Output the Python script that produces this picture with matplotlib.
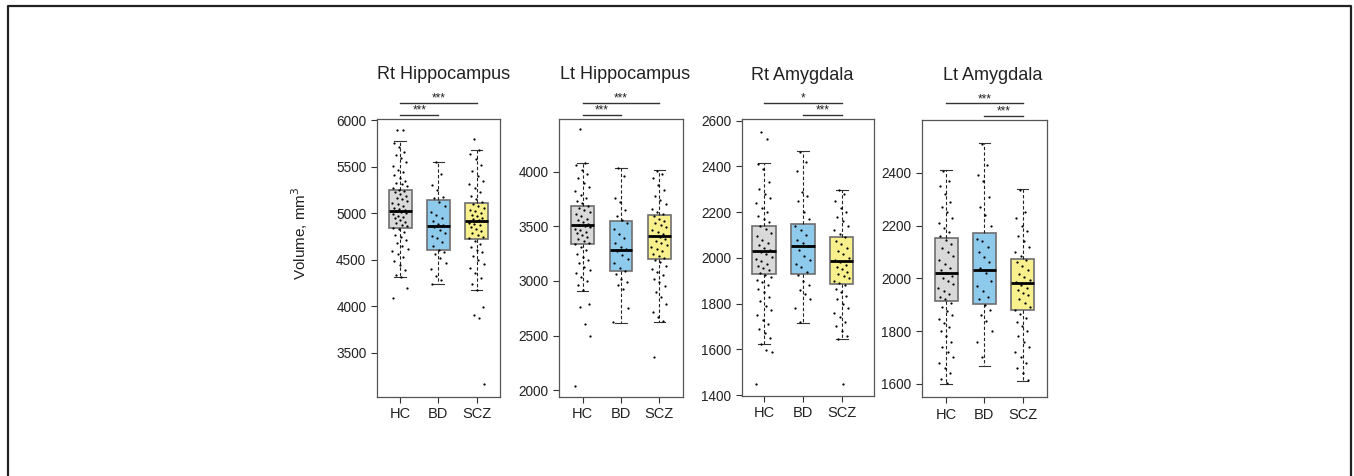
import matplotlib
matplotlib.use("Agg")
import matplotlib.pyplot as plt
from matplotlib.lines import Line2D

plt.rcParams['font.family'] = ['Liberation Sans', 'DejaVu Sans']

groups = ['HC', 'BD', 'SCZ']
titles = ['Rt Hippocampus', 'Lt Hippocampus', 'Rt Amygdala', 'Lt Amygdala']

# box stats per group: whisker low, Q1, median, Q3, whisker high
rt_hip_box = [[4315, 4839, 5021, 5254, 5780], [4237, 4602, 4867, 5140, 5556], [4179, 4724, 4918, 5108, 5685]]
lt_hip_box = [[2908, 3335, 3512, 3683, 4082], [2611, 3087, 3283, 3545, 4030], [2623, 3197, 3414, 3603, 4015]]
rt_amy_box = [[1622, 1929, 2031, 2138, 2413], [1714, 1928, 2053, 2147, 2467], [1644, 1884, 1988, 2093, 2298]]
lt_amy_box = [[1600, 1915, 2019, 2154, 2410], [1668, 1902, 2032, 2171, 2514], [1609, 1880, 1983, 2074, 2337]]

# individual subjects (estimated from the figure)
rt_hip_hc = [5900, 5895, 5760, 5710, 5660, 5630, 5590, 5550, 5510, 5470, 5440, 5410, 5380, 5350, 5330,
             5310, 5290, 5270, 5255, 5240, 5225, 5205, 5190, 5170, 5150, 5135, 5110, 5095, 5080, 5060,
             5050, 5035, 5025, 5015, 5005, 4990, 4975, 4960, 4945, 4930, 4910, 4895, 4875, 4860, 4845,
             4830, 4800, 4770, 4745, 4710, 4680, 4650, 4620, 4590, 4560, 4530, 4490, 4440, 4390, 4340,
             4310, 4200, 4090]
rt_hip_bd = [5550, 5420, 5300, 5250, 5180, 5160, 5120, 5080, 5010, 4980, 4950, 4920, 4890, 4870, 4850,
             4820, 4790, 4760, 4730, 4690, 4650, 4610, 4580, 4560, 4520, 4470, 4400, 4330, 4280, 4240]
rt_hip_scz = [5800, 5680, 5640, 5580, 5520, 5460, 5400, 5350, 5310, 5270, 5230, 5190, 5150, 5120, 5100,
              5080, 5060, 5040, 5020, 5000, 4985, 4970, 4955, 4940, 4925, 4915, 4900, 4885, 4870, 4850,
              4830, 4810, 4790, 4770, 4750, 4730, 4700, 4670, 4640, 4610, 4580, 4540, 4500, 4460, 4410,
              4360, 4300, 4240, 4180, 3990, 3910, 3875, 3160]

lt_hip_hc = [4390, 4080, 4060, 4020, 3980, 3940, 3900, 3860, 3820, 3790, 3760, 3730, 3710, 3690, 3670,
             3650, 3630, 3610, 3590, 3570, 3555, 3540, 3525, 3515, 3505, 3495, 3480, 3465, 3450, 3435,
             3420, 3400, 3385, 3370, 3350, 3335, 3310, 3280, 3250, 3220, 3190, 3160, 3130, 3100, 3070,
             3040, 3000, 2960, 2920, 2790, 2765, 2610, 2500, 2040]
lt_hip_bd = [4030, 3960, 3760, 3720, 3650, 3590, 3560, 3530, 3480, 3430, 3390, 3350, 3310, 3290, 3270,
             3240, 3200, 3160, 3120, 3090, 3060, 3020, 2990, 2960, 2930, 2750, 2620]
lt_hip_scz = [4010, 3980, 3940, 3880, 3830, 3780, 3740, 3700, 3660, 3630, 3610, 3590, 3570, 3550, 3530,
              3510, 3490, 3470, 3450, 3430, 3415, 3400, 3385, 3370, 3350, 3330, 3310, 3290, 3270, 3250,
              3230, 3210, 3195, 3170, 3140, 3110, 3080, 3050, 3020, 2990, 2950, 2900, 2850, 2790, 2720,
              2670, 2630, 2300]

rt_amy_hc = [2550, 2520, 2410, 2390, 2330, 2300, 2280, 2260, 2240, 2220, 2200, 2185, 2170, 2155, 2140,
             2125, 2110, 2095, 2080, 2065, 2055, 2045, 2035, 2025, 2015, 2005, 1995, 1985, 1975, 1965,
             1955, 1945, 1935, 1925, 1915, 1905, 1895, 1880, 1865, 1850, 1830, 1810, 1790, 1770, 1750,
             1730, 1710, 1690, 1670, 1650, 1625, 1595, 1590, 1450]
rt_amy_bd = [2465, 2420, 2380, 2290, 2270, 2250, 2200, 2170, 2140, 2120, 2100, 2080, 2065, 2050, 2035,
             2010, 1990, 1975, 1960, 1940, 1925, 1900, 1880, 1860, 1840, 1820, 1780, 1720]
rt_amy_scz = [2295, 2280, 2250, 2220, 2200, 2180, 2160, 2140, 2120, 2105, 2090, 2075, 2060, 2045, 2030,
              2015, 2000, 1990, 1980, 1970, 1960, 1950, 1940, 1930, 1920, 1910, 1900, 1890, 1880, 1865,
              1850, 1835, 1820, 1800, 1780, 1760, 1740, 1720, 1700, 1680, 1660, 1645, 1450]

lt_amy_hc = [2405, 2370, 2350, 2320, 2290, 2270, 2250, 2230, 2210, 2190, 2175, 2160, 2145, 2130, 2115,
             2100, 2085, 2070, 2055, 2040, 2030, 2020, 2010, 2000, 1990, 1980, 1965, 1950, 1940, 1930,
             1920, 1905, 1890, 1875, 1860, 1845, 1830, 1815, 1800, 1780, 1760, 1740, 1720, 1700, 1680,
             1660, 1640, 1620, 1605]
lt_amy_bd = [2510, 2430, 2390, 2370, 2310, 2270, 2240, 2200, 2150, 2140, 2120, 2100, 2080, 2060, 2040,
             2020, 1990, 1970, 1950, 1930, 1920, 1900, 1880, 1860, 1840, 1800, 1760, 1700]
lt_amy_scz = [2335, 2250, 2230, 2200, 2180, 2160, 2140, 2120, 2100, 2085, 2070, 2060, 2045, 2030, 2015,
              2005, 1995, 1985, 1975, 1965, 1955, 1945, 1935, 1920, 1905, 1890, 1880, 1865, 1850, 1835,
              1820, 1800, 1780, 1760, 1740, 1720, 1700, 1680, 1660, 1640, 1615]

# significance brackets: (from group, to group, label)
rt_hip_sig = [(1, 3, '***'), (1, 2, '***')]
lt_hip_sig = [(1, 3, '***'), (1, 2, '***')]
rt_amy_sig = [(1, 3, '*'), (2, 3, '***')]
lt_amy_sig = [(1, 3, '***'), (2, 3, '***')]

yticks = [[3500, 4000, 4500, 5000, 5500, 6000],
          [2000, 2500, 3000, 3500, 4000],
          [1400, 1600, 1800, 2000, 2200, 2400, 2600],
          [1600, 1800, 2000, 2200, 2400]]

panels = [
    (rt_hip_box, [rt_hip_hc, rt_hip_bd, rt_hip_scz], rt_hip_sig),
    (lt_hip_box, [lt_hip_hc, lt_hip_bd, lt_hip_scz], lt_hip_sig),
    (rt_amy_box, [rt_amy_hc, rt_amy_bd, rt_amy_scz], rt_amy_sig),
    (lt_amy_box, [lt_amy_hc, lt_amy_bd, lt_amy_scz], lt_amy_sig),
]

# layout (pixels of the 1354x476 figure)
W, H = 1354, 476
ax_px = [(376.7, 500.3, 119.3, 396.7), (559, 683.3, 119.3, 396.7),
         (741.7, 874, 119.3, 395.7), (921.7, 1046.7, 120, 397.3)]
xlims = [(0.392, 3.615), (0.381, 3.627), (0.426, 3.83), (0.366, 3.626)]
ylims = [(3028, 6011), (1940, 4480), (1397, 2606), (1549, 2600)]
title_x = [0.545, 0.531, 0.46, 0.57]
colors = ['#d9d9d9', '#8ecaec', '#f8f08c']


def spread(j, base=3):
    # van der Corput sequence: even, non-random horizontal spread
    f, v = 1.0, 0.0
    j += 1
    while j:
        f /= base
        v += f * (j % base)
        j //= base
    return v


fig = plt.figure(figsize=(W / 100, H / 100), dpi=100)

for k, (box, pts, sig) in enumerate(panels):
    l, r, t, b = ax_px[k]
    ax = fig.add_axes([l / W, 1 - b / H, (r - l) / W, (b - t) / H])
    stats = []
    for g, s in zip(groups, box):
        stats.append({'label': g, 'whislo': s[0], 'q1': s[1], 'med': s[2],
                      'q3': s[3], 'whishi': s[4], 'fliers': []})
    bp = ax.bxp(stats, positions=[1, 2, 3], widths=0.6, patch_artist=True,
                showfliers=False, capwidths=0.3,
                boxprops=dict(edgecolor='#6e6e6e', linewidth=1.2),
                medianprops=dict(color='black', linewidth=2.0),
                whiskerprops=dict(color='#222222', linestyle=(0, (3, 2)), linewidth=0.8),
                capprops=dict(color='#333333', linewidth=0.8))
    for patch, c in zip(bp['boxes'], colors):
        patch.set_facecolor(c)
    for i, vals in enumerate(pts):
        xs = [i + 1 + (spread(j) - 0.5) * 0.42 for j in range(len(vals))]
        ax.scatter(xs, vals, s=2.6, color='black', zorder=5, linewidths=0)
    ax.set_xlim(*xlims[k])
    ax.set_ylim(*ylims[k])
    ax.set_yticks(yticks[k])
    ax.set_xticks([1, 2, 3])
    ax.set_xticklabels(groups, fontsize=10.5)
    ax.tick_params(axis='y', labelsize=9.8, length=4, width=0.8, colors='#333333', labelcolor='#222222')
    ax.tick_params(axis='x', length=4, width=0.8, colors='#333333', labelcolor='#222222')
    for sp in ax.spines.values():
        sp.set_color('#555555')
        sp.set_linewidth(0.9)
    ax.text(title_x[k], 1.16, titles[k], transform=ax.transAxes, ha='center',
            va='center', fontsize=13, color='#222222')
    tr = ax.get_xaxis_transform()
    for n, (g1, g2, lab) in enumerate(sig):
        yy = 1.060 if n == 0 else 1.0155
        ax.add_line(Line2D([g1, g2], [yy, yy], transform=tr, color='#333333',
                           linewidth=1.0, clip_on=False))
        ax.text((g1 + g2) / 2, yy - 0.006, lab, transform=tr, ha='center',
                va='bottom', fontsize=8.5, color='#222222')

fig.text(300 / W, 1 - 233 / H, 'Volume, mm$^3$', rotation=90, ha='center',
         va='center', fontsize=11, color='#222222')

# outer frame
x0, x1, yt = 8 / W, 1350.7 / W, 1 - 6 / H
fig.add_artist(Line2D([x0, x0, x1, x1], [-0.01, yt, yt, -0.01],
                      transform=fig.transFigure, color='#222222', linewidth=1.6))

fig.savefig('out.png', dpi=100)
